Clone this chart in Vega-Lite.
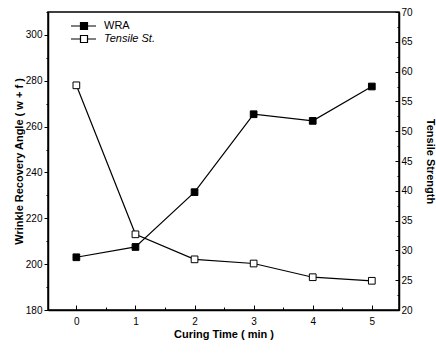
{
  "$schema": "https://vega.github.io/schema/vega-lite/v6.json",
  "width": 351,
  "height": 298,
  "autosize": {"type": "none"},
  "padding": {"left": 48, "top": 12, "right": 37, "bottom": 43},
  "background": "white",
  "config": {
    "view": {"stroke": "black", "strokeWidth": 1.5},
    "font": "Liberation Sans",
    "axis": {
      "grid": false,
      "domainColor": "black",
      "domainWidth": 1.5,
      "tickColor": "black",
      "labelColor": "black",
      "titleColor": "black",
      "labelFontSize": 10,
      "titleFontSize": 11,
      "titleFontWeight": "bold",
      "labelFont": "Liberation Sans",
      "titleFont": "Liberation Sans"
    }
  },
  "data": {
    "values": [
      {"time": 0, "series": "WRA", "value": 203},
      {"time": 1, "series": "WRA", "value": 207.5},
      {"time": 2, "series": "WRA", "value": 231.4},
      {"time": 3, "series": "WRA", "value": 265.4},
      {"time": 4, "series": "WRA", "value": 262.5},
      {"time": 5, "series": "WRA", "value": 277.5},
      {"time": 0, "series": "Tensile St.", "value": 57.7},
      {"time": 1, "series": "Tensile St.", "value": 32.7},
      {"time": 2, "series": "Tensile St.", "value": 28.5},
      {"time": 3, "series": "Tensile St.", "value": 27.8},
      {"time": 4, "series": "Tensile St.", "value": 25.5},
      {"time": 5, "series": "Tensile St.", "value": 24.9}
    ]
  },
  "encoding": {
    "x": {
      "field": "time",
      "type": "quantitative",
      "scale": {"domain": [-0.48, 5.46], "nice": false, "zero": false},
      "axis": {
        "title": "Curing Time ( min )",
        "values": [0, 0.5, 1, 1.5, 2, 2.5, 3, 3.5, 4, 4.5, 5],
        "labelExpr": "datum.value % 1 === 0 ? format(datum.value, 'd') : ''",
        "tickSize": {"condition": {"test": "datum.value % 1 !== 0", "value": -3}, "value": -5},
        "labelPadding": 11,
        "titlePadding": 2
      }
    }
  },
  "layer": [
    {
      "transform": [{"filter": "datum.series === 'WRA'"}],
      "encoding": {
        "y": {
          "field": "value",
          "type": "quantitative",
          "scale": {"domain": [180, 310], "nice": false, "zero": false},
          "axis": {
            "title": "Wrinkle Recovery Angle ( w + f )",
            "orient": "left",
            "values": [180, 190, 200, 210, 220, 230, 240, 250, 260, 270, 280, 290, 300, 310],
            "labelExpr": "datum.value % 20 === 0 ? datum.label : ''",
            "tickSize": {"condition": {"test": "datum.value % 20 !== 0", "value": 2}, "value": 4},
            "labelPadding": 2,
            "titlePadding": 1
          }
        }
      },
      "layer": [
        {"mark": {"type": "line", "color": "black", "strokeWidth": 1.2}},
        {
          "mark": {"type": "point", "shape": "square", "size": 45, "filled": true, "stroke": "black", "strokeWidth": 1, "opacity": 1},
          "encoding": {
            "fill": {
              "field": "series",
              "type": "nominal",
              "scale": {"domain": ["WRA", "Tensile St."], "range": ["black", "white"]},
              "legend": {
                "title": null,
                "orient": "top-left",
                "offset": 8,
                "padding": 0,
                "symbolType": "M1.8,0H3.7M5.1,0H6.8M3.7,-0.7H5.1V0.7H3.7Z",
                "symbolSize": 100,
                "symbolStrokeColor": "black",
                "symbolStrokeWidth": 1.2,
                "symbolOpacity": 1,
                "labelOffset": 36,
                "labelFontSize": 11,
                "labelColor": "black",
                "labelFont": "Liberation Sans",
                "rowPadding": 1,
                "encode": {
                  "labels": {
                    "update": {
                      "fontStyle": {"signal": "datum.value === 'Tensile St.' ? 'italic' : 'normal'"}
                    }
                  }
                }
              }
            }
          }
        }
      ]
    },
    {
      "transform": [{"filter": "datum.series === 'Tensile St.'"}],
      "encoding": {
        "y": {
          "field": "value",
          "type": "quantitative",
          "scale": {"domain": [20, 70], "nice": false, "zero": false},
          "axis": {
            "title": "Tensile Strength",
            "orient": "right",
            "values": [20, 22.5, 25, 27.5, 30, 32.5, 35, 37.5, 40, 42.5, 45, 47.5, 50, 52.5, 55, 57.5, 60, 62.5, 65, 67.5, 70],
            "labelExpr": "datum.value % 5 === 0 ? datum.label : ''",
            "tickSize": {"condition": {"test": "datum.value % 5 !== 0", "value": -2}, "value": -4},
            "labelPadding": 6,
            "titlePadding": 12
          }
        }
      },
      "layer": [
        {"mark": {"type": "line", "color": "black", "strokeWidth": 1.2}},
        {
          "mark": {"type": "point", "shape": "square", "size": 45, "filled": true, "stroke": "black", "strokeWidth": 1, "opacity": 1},
          "encoding": {
            "fill": {"field": "series", "type": "nominal"}
          }
        }
      ]
    }
  ],
  "resolve": {"scale": {"y": "independent"}}
}
